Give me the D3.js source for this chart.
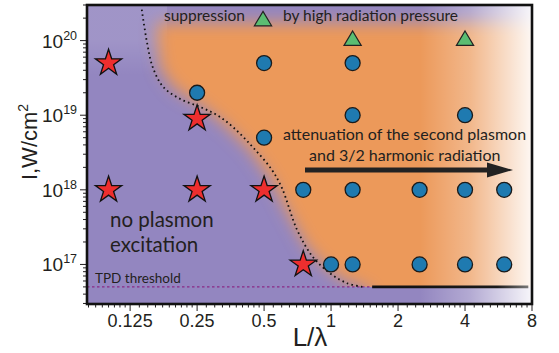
<!DOCTYPE html>
<html><head><meta charset="utf-8">
<script src="https://cdn.jsdelivr.net/npm/d3@7"></script>
<style>html,body{margin:0;padding:0;background:#fff;}svg{display:block;}</style>
</head><body>
<svg id="chart" width="559" height="353"></svg>
<script>
// ---------- data ----------
const xTickValues = [0.125, 0.25, 0.5, 1, 2, 4, 8];
const xTickLabels = ["0.125", "0.25", "0.5", "1", "2", "4", "8"];
const yTickExponents = [17, 18, 19, 20];

// plasmon excitation observed (circles): [L/lambda, I]
const plasmonPoints = [
  [0.25, 2e19], [0.5, 5e19], [0.5, 5e18], [1.25, 5e19], [1.25, 1e19], [4, 1e19],
  [0.75, 1e18], [1.25, 1e18], [2.5, 1e18], [4, 1e18], [6, 1e18],
  [1, 1e17], [1.25, 1e17], [2.5, 1e17], [4, 1e17], [6, 1e17]
];
// no plasmon (stars)
const noPlasmonPoints = [
  [0.1, 5e19], [0.25, 9e18], [0.1, 1e18], [0.25, 1e18], [0.5, 1e18], [0.75, 1e17]
];
// suppression by radiation pressure (triangles)
const suppressionPoints = [[1.25, 1e20], [4, 1e20]];

// dotted boundary curve
const boundaryCurve = [
  [0.141, 2.6e20], [0.149, 9.3e19], [0.158, 4.4e19], [0.176, 2.4e19], [0.21, 1.65e19],
  [0.258, 1.29e19], [0.308, 1.0e19], [0.363, 6.9e18], [0.446, 3.7e18], [0.543, 1.84e18],
  [0.602, 1.05e18], [0.704, 2.9e17], [0.83, 1.25e17], [0.99, 7.6e16], [1.18, 5.6e16], [1.39, 5.0e16]
];
// orange region (plasmon excitation zone) outline
const orangeRegion = [
  [0.165, 1.75e20], [0.165, 1.0e20], [0.172, 4.0e19], [0.2, 2.2e19], [0.255, 1.4e19],
  [0.33, 7.6e18], [0.43, 3.5e18], [0.535, 1.4e18], [0.645, 4.7e17], [0.77, 1.8e17],
  [0.92, 9.8e16], [1.13, 6.2e16], [1.5, 4.5e16], [1.5, 1.8e16], [16, 1.8e16], [16, 1.75e20]
];
const tpdThreshold = 5e16;
const tpdRange = [0.08, 1.55];
const solidRange = [1.53, 7.7];

// ---------- layout ----------
const svg = d3.select("#chart");
const x = d3.scaleLog().base(2).domain([0.08, 8]).range([87, 532]);
const y = d3.scaleLog().domain([2.95e16, 3e20]).range([304, 5]);
const [X0, X1] = x.range();
const [Y1, Y0] = y.range();
const ink = "#231f20";

const defs = svg.append("defs");
defs.append("clipPath").attr("id", "plotClip").append("rect")
  .attr("x", X0).attr("y", Y0).attr("width", X1 - X0).attr("height", Y1 - Y0);
defs.append("clipPath").attr("id", "orangeClip").append("rect")
  .attr("x", X0).attr("y", Y0).attr("width", X1 - X0).attr("height", y(tpdThreshold) - Y0);
const blur = defs.append("filter").attr("id", "blur")
  .attr("filterUnits", "userSpaceOnUse")
  .attr("x", 0).attr("y", -50).attr("width", 700).attr("height", 450);
blur.append("feGaussianBlur").attr("stdDeviation", 8);

const fade = defs.append("linearGradient").attr("id", "whiteFade")
  .attr("gradientUnits", "userSpaceOnUse").attr("x1", 420).attr("x2", X1).attr("y1", 0).attr("y2", 0);
fade.append("stop").attr("offset", 0).attr("stop-color", "#fff").attr("stop-opacity", 0);
fade.append("stop").attr("offset", 0.45).attr("stop-color", "#fff").attr("stop-opacity", 0.3);
fade.append("stop").attr("offset", 1).attr("stop-color", "#fff").attr("stop-opacity", 0.93);

const topLight = defs.append("linearGradient").attr("id", "topLight")
  .attr("gradientUnits", "userSpaceOnUse").attr("x1", 0).attr("x2", 0).attr("y1", Y0).attr("y2", 75);
topLight.append("stop").attr("offset", 0).attr("stop-color", "#fff").attr("stop-opacity", 0.12);
topLight.append("stop").attr("offset", 0.5).attr("stop-color", "#fff").attr("stop-opacity", 0.12);
topLight.append("stop").attr("offset", 1).attr("stop-color", "#fff").attr("stop-opacity", 0);

const blackFade = defs.append("linearGradient").attr("id", "blackFade")
  .attr("gradientUnits", "userSpaceOnUse").attr("x1", x(solidRange[0])).attr("x2", x(solidRange[1])).attr("y1", 0).attr("y2", 0);
blackFade.append("stop").attr("offset", 0).attr("stop-color", "#111");
blackFade.append("stop").attr("offset", 0.8).attr("stop-color", "#1a1a1a");
blackFade.append("stop").attr("offset", 1).attr("stop-color", "#777");

// ---------- background ----------
const bg = svg.append("g").attr("clip-path", "url(#plotClip)");
bg.append("rect").attr("x", X0).attr("y", Y0).attr("width", X1 - X0).attr("height", Y1 - Y0)
  .attr("fill", "#9386c0");
bg.append("rect").attr("x", X0).attr("y", Y0).attr("width", 80).attr("height", 75)
  .attr("fill", "url(#topLight)");
bg.append("g").attr("clip-path", "url(#orangeClip)")
  .append("path")
  .attr("d", d3.line().x(d => x(d[0])).y(d => y(d[1])).curve(d3.curveLinearClosed)(orangeRegion))
  .attr("fill", "#ec995a").attr("filter", "url(#blur)");
bg.append("rect").attr("x", X0).attr("y", Y0).attr("width", X1 - X0).attr("height", Y1 - Y0)
  .attr("fill", "url(#whiteFade)");

// threshold lines
svg.append("line")
  .attr("x1", x(tpdRange[0])).attr("x2", x(tpdRange[1]))
  .attr("y1", y(tpdThreshold)).attr("y2", y(tpdThreshold))
  .attr("stroke", "#8a2a86").attr("stroke-width", 1.2).attr("stroke-dasharray", "2.5,2.5");
svg.append("line")
  .attr("x1", x(solidRange[0])).attr("x2", x(solidRange[1]))
  .attr("y1", y(tpdThreshold)).attr("y2", y(tpdThreshold))
  .attr("stroke", "url(#blackFade)").attr("stroke-width", 2.6);

// dotted boundary
svg.append("path")
  .attr("d", d3.line().x(d => x(d[0])).y(d => y(d[1])).curve(d3.curveCatmullRom)(boundaryCurve))
  .attr("fill", "none").attr("stroke", "#111").attr("stroke-width", 1.8)
  .attr("stroke-dasharray", "1.6,3.2").attr("stroke-linecap", "butt");

// ---------- axes ----------
function fmtSup(sel, exp) {
  sel.append("tspan").text("10");
  sel.append("tspan").attr("dy", -8).attr("font-size", 12.5).text(exp);
}
const axG = svg.append("g").attr("fill", ink);

// y minor/major ticks
const yTicks = [];
for (let e = 16; e <= 20; e++) for (let m = 1; m <= 9; m++) {
  const v = m * Math.pow(10, e);
  if (v >= y.domain()[0] && v <= y.domain()[1]) yTicks.push({v, major: m === 1});
}
axG.selectAll(".ytick").data(yTicks).join("line")
  .attr("x1", X0).attr("x2", d => X0 - (d.major ? 7 : 4))
  .attr("y1", d => y(d.v)).attr("y2", d => y(d.v))
  .attr("stroke", ink).attr("stroke-width", 1);
axG.selectAll(".ylab").data(yTickExponents).join("text")
  .attr("x", 42).attr("y", d => y(Math.pow(10, d)) + 7)
  .attr("font-family", "Liberation Sans, Arial, sans-serif").attr("font-size", 19)
  .each(function(d) { fmtSup(d3.select(this), d); });

// x ticks
const xTicks = [];
for (let e = -4; e <= 3; e++) {
  const base = Math.pow(2, e);
  for (let k = 0; k < 10; k++) {
    const v = base * (1 + k / 10);
    if (v >= x.domain()[0] && v <= x.domain()[1] + 1e-9) xTicks.push({v, major: k === 0});
  }
}
axG.selectAll(".xtick").data(xTicks).join("line")
  .attr("x1", d => x(d.v)).attr("x2", d => x(d.v))
  .attr("y1", Y1).attr("y2", d => Y1 + (d.major ? 7 : 3.5))
  .attr("stroke", ink).attr("stroke-width", 1);
axG.selectAll(".xlab").data(xTickValues).join("text")
  .attr("x", d => x(d)).attr("y", 327).attr("text-anchor", "middle")
  .attr("font-family", "Liberation Sans, Arial, sans-serif").attr("font-size", 18)
  .text((d, i) => xTickLabels[i]);

// titles
svg.append("text").attr("x", 310).attr("y", 346).attr("text-anchor", "middle")
  .attr("font-family", "Liberation Sans, Arial, sans-serif").attr("font-size", 26).attr("fill", ink)
  .text("L/λ");
const yt = svg.append("text").attr("transform", "translate(37,142) rotate(-90)")
  .attr("text-anchor", "middle")
  .attr("font-family", "Liberation Sans, Arial, sans-serif").attr("font-size", 22).attr("fill", ink);
yt.append("tspan").text("I,W/cm");
yt.append("tspan").attr("dy", -9).attr("font-size", 14).text("2");

// frame
svg.append("rect").attr("x", X0).attr("y", Y0).attr("width", X1 - X0).attr("height", Y1 - Y0)
  .attr("fill", "none").attr("stroke", "#111").attr("stroke-width", 2.6);

// ---------- annotations ----------
const annFont = "Lato, 'Open Sans', sans-serif";
const ann = svg.append("g").attr("font-family", annFont).attr("fill", ink);
ann.append("text").attr("x", 164).attr("y", 21).attr("font-size", 15.5).text("suppression");
ann.append("text").attr("x", 283).attr("y", 21).attr("font-size", 15.5).text("by high radiation pressure");
ann.append("text").attr("x", 283).attr("y", 140).attr("font-size", 16).text("attenuation of the second plasmon");
ann.append("text").attr("x", 309).attr("y", 161).attr("font-size", 16).text("and 3/2 harmonic radiation");
ann.append("text").attr("x", 110).attr("y", 227).attr("font-size", 20.5).text("no plasmon");
ann.append("text").attr("x", 110).attr("y", 252).attr("font-size", 20.5).text("excitation");
ann.append("text").attr("x", 95).attr("y", 283).attr("font-size", 13.5).text("TPD threshold");

// arrow
svg.append("line").attr("x1", 305).attr("x2", 490).attr("y1", 170).attr("y2", 170)
  .attr("stroke", "#222").attr("stroke-width", 5);
svg.append("path").attr("d", "M487,162.5 L513,170 L487,177.5 Z").attr("fill", "#222");

// ---------- markers ----------
const triPath = "M0,-9.6 L8.6,4.8 L-8.6,4.8 Z";
const starPath = d3.symbol().type(d3.symbolStar).size(215)();

svg.append("path").attr("d", triPath).attr("transform", "translate(263,21)")
  .attr("fill", "#5bbd72").attr("stroke", "#222").attr("stroke-width", 1.2);

svg.append("g").selectAll("path").data(suppressionPoints).join("path")
  .attr("d", triPath)
  .attr("transform", d => `translate(${x(d[0])},${y(d[1])})`)
  .attr("fill", "#5bbd72").attr("stroke", "#222").attr("stroke-width", 1.2);

svg.append("g").selectAll("circle").data(plasmonPoints).join("circle")
  .attr("cx", d => x(d[0])).attr("cy", d => y(d[1])).attr("r", 7.5)
  .attr("fill", "#1f7ab0").attr("stroke", "#1a1a1a").attr("stroke-width", 1.3);

svg.append("g").selectAll("path").data(noPlasmonPoints).join("path")
  .attr("d", starPath)
  .attr("transform", d => `translate(${x(d[0])},${y(d[1])})`)
  .attr("fill", "#ee2e2e").attr("stroke", "#111").attr("stroke-width", 1.3);
</script>
</body></html>
